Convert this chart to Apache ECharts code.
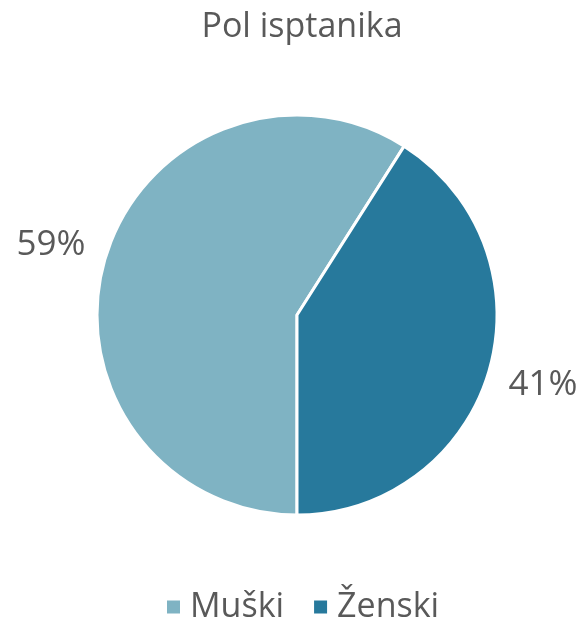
<!DOCTYPE html>
<html><head><meta charset="utf-8">
<script src="https://cdn.jsdelivr.net/npm/echarts@6/dist/echarts.min.js"></script>
<style>html,body{margin:0;padding:0;background:#fff}#c{width:582px;height:625px}</style>
</head><body><div id="c"></div>
<script>
var titleText = 'Pol isptanika';
var categories = ['Muški', 'Ženski'];
var values = [59, 41];
var colors = ['#7fb3c3', '#27799c'];
var chart = echarts.init(document.getElementById('c'));
var FONT = '"Open Sans", "DejaVu Sans", sans-serif';
chart.setOption({
  animation: false,
  title: {text: titleText, left: 297, textAlign: 'center', top: 5, textStyle: {fontFamily: FONT, fontSize: 34, fontWeight: 'normal', color: '#595959'}},
  legend: {bottom: -4, left: 160, itemWidth: 15, itemHeight: 15, itemGap: 28, icon: 'rect',
    textStyle: {fontFamily: FONT, fontSize: 34, color: '#595959', padding: [0,0,0,4]}, data: categories},
  color: colors,
  series: [{
    type: 'pie', center: [297, 315], radius: 200, startAngle: -90, clockwise: true,
    itemStyle: {borderColor: '#fff', borderWidth: 3},
    label: {show: true, position: 'outside', formatter: '{d}%', fontFamily: FONT, fontSize: 35, color: '#595959', overflow: 'none'},
    labelLine: {show: false, length: 50, length2: 6},
    labelLayout: function (p) {
      var pts = p.labelLinePoints;
      if (!pts) return {};
      return {x: pts[2][0], y: pts[2][1], align: 'center', verticalAlign: 'middle'};
    },
    data: categories.map(function(c, i){ return {name: c, value: values[i]}; })
  }]
});
</script></body></html>
